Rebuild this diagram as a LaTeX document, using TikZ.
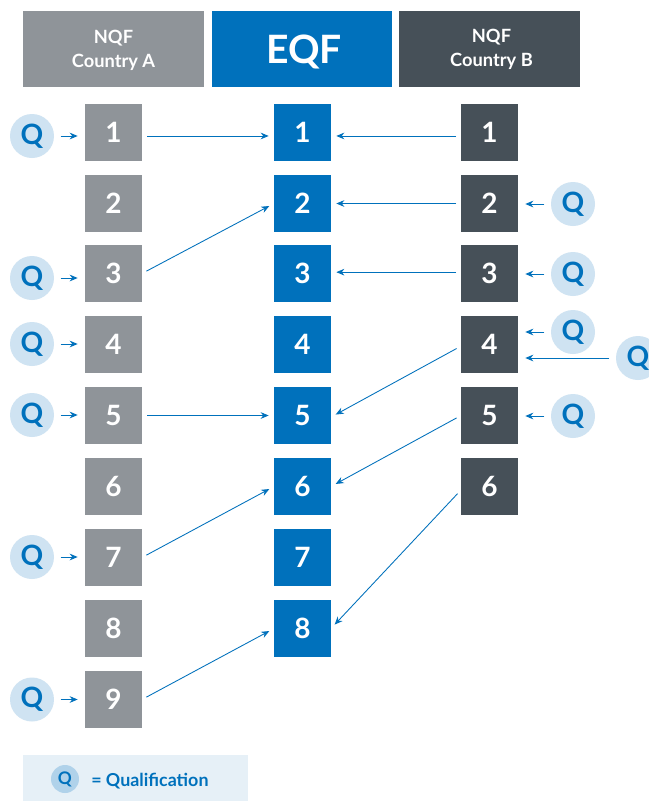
\documentclass[tikz,border=0pt]{standalone}
\usepackage{fontspec}
\setmainfont{Lato}
\usetikzlibrary{arrows.meta}
\definecolor{cgrey}{HTML}{8F9499}
\definecolor{cblue}{HTML}{0071BC}
\definecolor{cdark}{HTML}{465058}
\definecolor{ccirc}{HTML}{CFE3F2}
\definecolor{cleg}{HTML}{E6F0F7}
\tikzset{
  x=0.75pt,y=-0.75pt,
  head/.style={draw=none,inner sep=0,outer sep=0,minimum height=57pt,anchor=north west},
  headtext/.style={inner sep=0,text=white,align=center,font=\fontsize{13.7}{18}\selectfont\bfseries},
  lvl/.style={draw=none,inner sep=0,outer sep=0,minimum width=42.75pt,minimum height=42.75pt,text=white,font=\fontsize{21}{25}\selectfont\bfseries},
  lA/.style={lvl,fill=cgrey},
  lE/.style={lvl,fill=cblue},
  lB/.style={lvl,fill=cdark},
  qual/.style={circle,fill=ccirc,inner sep=0,outer sep=0,minimum size=33pt,text=cblue,font=\fontsize{21}{25}\selectfont\bfseries},
  arr/.style={draw=cblue,line width=0.65pt,-{Stealth[length=6pt,width=5pt]}},
  gapL/.style={arr,shorten <=3.75pt,shorten >=4pt},
  gapS/.style={arr,shorten <=5pt,shorten >=5.5pt},
}
\begin{document}
\begin{tikzpicture}
\useasboundingbox[fill=white] (0,0) rectangle (649,801);
% headers
\node[head,fill=cgrey,minimum width=135.75pt] (hA) at (23,11) {};
\node[head,fill=cblue,minimum width=135pt] (hE) at (212,11) {};
\node[head,fill=cdark,minimum width=135.75pt] (hB) at (399,11) {};
\node[headtext] (hAt) at ([yshift=-1.2pt]hA.center) {NQF\\Country A};
\node[headtext,font=\fontsize{29.3}{34}\selectfont\bfseries] (hEt) at ([xshift=1.5pt,yshift=-2.1pt]hE.center) {EQF};
\node[headtext] (hBt) at ([xshift=1.5pt,yshift=-0.2pt]hB.center) {NQF\\Country B};
% country A
\node[lA] (a1) at (113.5,132.5) {1};
\node[lA] (a2) at (113.5,203.5) {2};
\node[lA] (a3) at (113.5,273.5) {3};
\node[lA] (a4) at (113.5,344.5) {4};
\node[lA] (a5) at (113.5,415.5) {5};
\node[lA] (a6) at (113.5,486.5) {6};
\node[lA] (a7) at (113.5,557.5) {7};
\node[lA] (a8) at (113.5,628.5) {8};
\node[lA] (a9) at (113.5,699.5) {9};
% EQF
\node[lE] (e1) at (302.5,132.5) {1};
\node[lE] (e2) at (302.5,203.5) {2};
\node[lE] (e3) at (302.5,273.5) {3};
\node[lE] (e4) at (302.5,344.5) {4};
\node[lE] (e5) at (302.5,415.5) {5};
\node[lE] (e6) at (302.5,486.5) {6};
\node[lE] (e7) at (302.5,557.5) {7};
\node[lE] (e8) at (302.5,628.5) {8};
% country B
\node[lB] (b1) at (489.5,132.5) {1};
\node[lB] (b2) at (489.5,203.5) {2};
\node[lB] (b3) at (489.5,273.5) {3};
\node[lB] (b4) at (489.5,344.5) {4};
\node[lB] (b5) at (489.5,415.5) {5};
\node[lB] (b6) at (489.5,486.5) {6};
% qualifications
\node[qual] (qa1) at (32,136) {Q};
\node[qual] (qa3) at (32,278) {Q};
\node[qual] (qa4) at (32,344) {Q};
\node[qual] (qa5) at (32,415) {Q};
\node[qual] (qa7) at (32,557) {Q};
\node[qual] (qa9) at (32,699.5) {Q};
\node[qual] (qb2) at (573,204) {Q};
\node[qual] (qb3) at (573,274) {Q};
\node[qual] (qb4) at (573,332) {Q};
\node[qual] (qbx) at (638,358) {Q};
\node[qual] (qb5) at (573,416) {Q};
% qualification arrows
\draw[gapS] (qa1.east) -- (a1.west |- qa1.east);
\draw[gapS] (qa3.east) -- (a3.west |- qa3.east);
\draw[gapS] (qa4.east) -- (a4.west |- qa4.east);
\draw[gapS] (qa5.east) -- (a5.west |- qa5.east);
\draw[gapS] (qa7.east) -- (a7.west |- qa7.east);
\draw[gapS] (qa9.east) -- (a9.west |- qa9.east);
\draw[gapS] (qb2.west) -- (b2.east |- qb2.west);
\draw[gapS] (qb3.west) -- (b3.east |- qb3.west);
\draw[gapS] (qb4.west) -- (b4.east |- qb4.west);
\draw[gapS] (qbx.west) -- (b4.east |- qbx.west);
\draw[gapS] (qb5.west) -- (b5.east |- qb5.west);
% A to EQF
\draw[gapL] ([yshift=-2.6pt]a1.east) -- ([yshift=-2.6pt]e1.west);
\draw[gapL] (a3.east) -- (e2.west);
\draw[gapL] (a5.east) -- (e5.west);
\draw[gapL] (a7.east) -- (e6.west);
\draw[gapL] (a9.east) -- (e8.west);
% B to EQF
\draw[gapL] ([yshift=-2.6pt]b1.west) -- ([yshift=-2.6pt]e1.east);
\draw[gapL] (b2.west) -- (e2.east);
\draw[gapL] ([yshift=1pt]b3.west) -- ([yshift=1pt]e3.east);
\draw[gapL] ([yshift=-1.2pt]b4.west) -- ([yshift=-1.2pt]e5.east);
\draw[gapL] (b5.west) -- (e6.east);
\draw[gapL] ([yshift=-2.6pt]b6.west) -- (e8.east);
% legend
\node[draw=none,fill=cleg,inner sep=0,outer sep=0,minimum width=168.75pt,minimum height=34.5pt,anchor=north west] (leg) at (23,755) {};
\node[circle,fill=ccirc!85!cblue,inner sep=0,minimum size=21pt,text=cblue,font=\fontsize{13}{15}\selectfont\bfseries] (lq) at (65,779) {Q};
\node[text=cblue,inner sep=0,anchor=west,font=\fontsize{13.4}{15}\selectfont\bfseries] (lt) at (91,781) {= Qualification};
\end{tikzpicture}
\end{document}
